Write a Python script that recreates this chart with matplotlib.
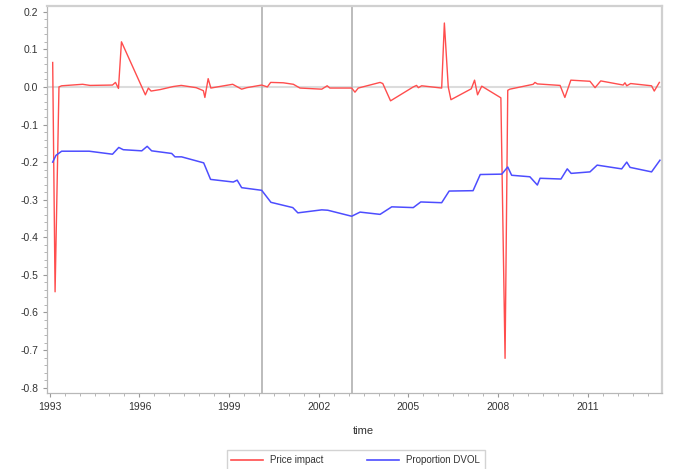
import matplotlib
matplotlib.use("Agg")
import matplotlib.pyplot as plt
from matplotlib.ticker import MultipleLocator, FormatStrFormatter
from matplotlib.lines import Line2D

# ── DATA ─────────────────────────────────────────────────────────────────────
price_years = [
    1993.10, 1993.18, 1993.31, 1993.40, 1994.10, 1994.35, 1995.10, 1995.20,
    1995.30, 1995.40, 1996.20, 1996.30, 1996.39, 1996.70, 1997.13, 1997.40,
    1997.90, 1998.14, 1998.19, 1998.30, 1998.39, 1998.75, 1999.12, 1999.42,
    1999.59, 2000.09, 2000.28, 2000.39, 2000.81, 2001.15, 2001.37, 2002.10,
    2002.28, 2002.37, 2003.10, 2003.21, 2003.32, 2004.05, 2004.14, 2004.40,
    2005.16, 2005.27, 2005.33, 2005.44, 2006.11, 2006.20, 2006.33, 2006.42,
    2007.10, 2007.21, 2007.31, 2007.45, 2008.09, 2008.23, 2008.32, 2008.39,
    2009.17, 2009.23, 2009.31, 2010.07, 2010.23, 2010.43, 2011.07, 2011.24,
    2011.43, 2012.18, 2012.24, 2012.30, 2012.43, 2013.13, 2013.22, 2013.39,
]
price_impact = [
    0.065, -0.545, 0.000, 0.003, 0.007, 0.004, 0.005, 0.012,
    -0.004, 0.120, -0.021, -0.003, -0.011, -0.007, 0.001, 0.004,
    -0.002, -0.010, -0.028, 0.022, -0.003, 0.002, 0.007, -0.006,
    -0.002, 0.005, 0.000, 0.012, 0.011, 0.007, -0.003, -0.006,
    0.003, -0.003, -0.003, -0.014, -0.003, 0.012, 0.009, -0.037,
    0.000, 0.004, -0.002, 0.003, -0.003, 0.170, 0.000, -0.034,
    -0.005, 0.018, -0.021, 0.002, -0.029, -0.722, -0.009, -0.006,
    0.007, 0.012, 0.008, 0.004, -0.028, 0.018, 0.015, -0.002,
    0.016, 0.005, 0.011, 0.003, 0.009, 0.003, -0.011, 0.012,
]

dvol_years = [
    1993.10, 1993.21, 1993.40, 1994.32, 1995.10, 1995.31, 1995.46, 1996.08,
    1996.26, 1996.41, 1997.08, 1997.19, 1997.41, 1998.15, 1998.38, 1999.14,
    1999.27, 1999.42, 2000.09, 2000.40, 2001.13, 2001.30, 2002.10, 2002.30,
    2003.10, 2003.38, 2004.05, 2004.44, 2005.16, 2005.41, 2006.11, 2006.36,
    2007.16, 2007.40, 2008.12, 2008.32, 2008.45, 2009.06, 2009.31, 2009.40,
    2010.10, 2010.31, 2010.44, 2011.07, 2011.31, 2012.13, 2012.30, 2012.41,
    2013.13, 2013.41,
]
proportion_dvol = [
    -0.200, -0.182, -0.171, -0.171, -0.179, -0.161, -0.167, -0.170,
    -0.158, -0.170, -0.177, -0.186, -0.186, -0.202, -0.246, -0.253,
    -0.248, -0.268, -0.275, -0.307, -0.321, -0.335, -0.327, -0.328,
    -0.344, -0.333, -0.339, -0.319, -0.321, -0.306, -0.308, -0.277,
    -0.276, -0.233, -0.232, -0.213, -0.235, -0.239, -0.261, -0.243,
    -0.245, -0.218, -0.230, -0.226, -0.208, -0.218, -0.200, -0.214,
    -0.226, -0.195,
]

ref_years = [2000.09, 2003.10]
year_ticks = [1993, 1996, 1999, 2002, 2005, 2008, 2011]

# ── STYLE ────────────────────────────────────────────────────────────────────
RED = "#ff4d4d"
BLUE = "#4d4dff"
TEXT = "#333333"
FRAME = "#d0d0d0"

plt.rcParams["font.family"] = ["Liberation Sans", "DejaVu Sans"]

fig = plt.figure(figsize=(6.74, 4.69), dpi=100)
ax = fig.add_axes([0.0693, 0.1614, 0.9125, 0.8256])

ax.axhline(0, color="#dcdcdc", linewidth=1.5, zorder=1)
for yr in ref_years:
    ax.axvline(yr, color="#b0b0b0", linewidth=1.2, zorder=1)

ax.plot(price_years, price_impact, color=RED, linewidth=1.0, zorder=3)
ax.plot(dvol_years, proportion_dvol, color=BLUE, linewidth=1.1, zorder=3)

ax.set_xlim(1992.9, 2013.47)
ax.set_ylim(-0.815, 0.215)

ax.set_xticks(year_ticks)
ax.set_xticklabels([str(y) for y in year_ticks])
ax.xaxis.set_minor_locator(MultipleLocator(0.5))
ax.yaxis.set_major_locator(MultipleLocator(0.1))
ax.yaxis.set_minor_locator(MultipleLocator(0.02))
ax.yaxis.set_major_formatter(FormatStrFormatter("%.1f"))

ax.tick_params(axis="both", which="major", length=3, width=0.8, color="#999999",
               labelsize=7.5, labelcolor=TEXT, pad=3)
ax.tick_params(axis="both", which="minor", length=2, width=0.6, color="#aaaaaa")

for side in ["left", "bottom"]:
    ax.spines[side].set_color("#b8b8b8")
    ax.spines[side].set_linewidth(0.9)
for side in ["top", "right"]:
    ax.spines[side].set_color(FRAME)
    ax.spines[side].set_linewidth(1.6)

fig.text(0.539, 0.081, "time", ha="center", va="center", fontsize=8, color=TEXT)

handles = [Line2D([], [], color=RED, linewidth=1.2),
           Line2D([], [], color=BLUE, linewidth=1.2)]
leg = fig.legend(handles, ["Price impact", "Proportion DVOL"], loc="lower center",
                 bbox_to_anchor=(0.528, -0.012), ncol=2, fontsize=7,
                 frameon=True, fancybox=False, edgecolor="#c8c8c8",
                 handlelength=3.2, columnspacing=4.5, borderpad=0.5)
for t in leg.get_texts():
    t.set_color(TEXT)

fig.savefig("out.png", dpi=100)
